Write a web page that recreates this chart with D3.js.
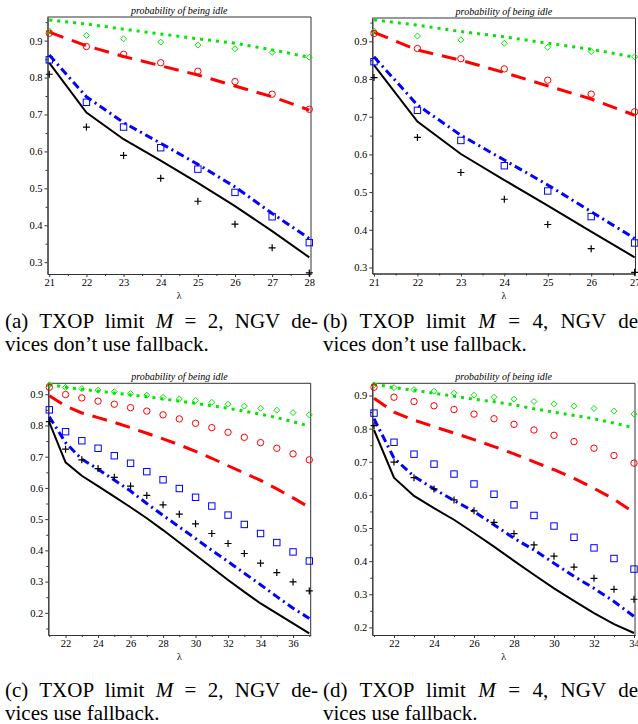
<!DOCTYPE html>
<html>
<head>
<meta charset="utf-8">
<style>
  body { margin: 0; background: #fff; }
  svg { display: block; font-family: "Liberation Serif", "Times New Roman", Times, serif; }
  text { fill: #000; }
  .domain { stroke: #333; }
  .tick line { stroke: #333; }
</style>
</head>
<body>
<svg width="638" height="724"></svg>
<script src="https://cdnjs.cloudflare.com/ajax/libs/d3/7.8.5/d3.min.js"></script>
<script>

// x values (lambda) for each panel
var lambdaA = [21, 22, 23, 24, 25, 26, 27, 28];
var lambdaB = [21, 22, 23, 24, 25, 26, 27];
var lambdaC = [21, 22, 23, 24, 25, 26, 27, 28, 29, 30, 31, 32, 33, 34, 35, 36, 37];
var lambdaD = [21, 22, 23, 24, 25, 26, 27, 28, 29, 30, 31, 32, 33, 34];

// panel (a)
var greenLineA = [0.956, 0.945, 0.931, 0.918, 0.905, 0.893, 0.875, 0.855];
var greenPtsA  = [0.926, 0.914, 0.905, 0.896, 0.888, 0.878, 0.868, 0.855];
var redLineA   = [0.923, 0.886, 0.857, 0.832, 0.807, 0.777, 0.748, 0.712];
var redPtsA    = [0.920, 0.884, 0.863, 0.840, 0.817, 0.789, 0.755, 0.714];
var blueLineA  = [0.861, 0.748, 0.678, 0.622, 0.565, 0.504, 0.432, 0.364];
var bluePtsA   = [0.848, 0.733, 0.666, 0.610, 0.552, 0.489, 0.423, 0.353];
var blackLineA = [0.840, 0.705, 0.633, 0.575, 0.515, 0.452, 0.384, 0.313];
var blackPtsA  = [0.809, 0.666, 0.589, 0.527, 0.465, 0.403, 0.339, 0.271];

// panel (b)
var greenLineB = [0.957, 0.943, 0.926, 0.912, 0.895, 0.879, 0.858];
var greenPtsB  = [0.927, 0.914, 0.904, 0.895, 0.884, 0.873, 0.859];
var redLineB   = [0.924, 0.877, 0.850, 0.817, 0.782, 0.747, 0.704];
var redPtsB    = [0.921, 0.881, 0.854, 0.827, 0.797, 0.760, 0.713];
var blueLineB  = [0.859, 0.731, 0.651, 0.585, 0.519, 0.448, 0.377];
var bluePtsB   = [0.846, 0.717, 0.637, 0.570, 0.503, 0.435, 0.365];
var blackLineB = [0.837, 0.687, 0.601, 0.532, 0.464, 0.395, 0.327];
var blackPtsB  = [0.804, 0.645, 0.552, 0.481, 0.414, 0.350, 0.287];

// panel (c)
var greenLineC = [0.932, 0.922, 0.916, 0.910, 0.904, 0.898, 0.892, 0.885, 0.878, 0.871, 0.863, 0.855, 0.846, 0.836, 0.825, 0.812, 0.798];
var greenPtsC  = [0.930, 0.922, 0.918, 0.913, 0.908, 0.902, 0.897, 0.890, 0.885, 0.880, 0.874, 0.868, 0.862, 0.855, 0.849, 0.841, 0.834];
var redLineC   = [0.895, 0.862, 0.840, 0.825, 0.810, 0.793, 0.775, 0.757, 0.738, 0.717, 0.695, 0.671, 0.648, 0.624, 0.597, 0.568, 0.538];
var redPtsC    = [0.922, 0.899, 0.888, 0.878, 0.868, 0.857, 0.846, 0.834, 0.821, 0.807, 0.793, 0.778, 0.762, 0.745, 0.727, 0.709, 0.690];
var blueLineC  = [0.828, 0.745, 0.692, 0.660, 0.625, 0.590, 0.550, 0.512, 0.475, 0.438, 0.400, 0.364, 0.327, 0.290, 0.252, 0.215, 0.182];
var bluePtsC   = [0.850, 0.780, 0.751, 0.727, 0.703, 0.679, 0.652, 0.626, 0.598, 0.570, 0.542, 0.513, 0.483, 0.454, 0.425, 0.395, 0.366];
var blackLineC = [0.810, 0.682, 0.639, 0.606, 0.572, 0.538, 0.503, 0.465, 0.425, 0.385, 0.345, 0.305, 0.267, 0.230, 0.198, 0.166, 0.134];
var blackPtsC  = [0.812, 0.724, 0.690, 0.662, 0.634, 0.606, 0.576, 0.546, 0.516, 0.485, 0.454, 0.422, 0.390, 0.359, 0.329, 0.299, 0.270];

// panel (d)
var greenLineD = [0.934, 0.924, 0.916, 0.907, 0.898, 0.889, 0.881, 0.872, 0.860, 0.850, 0.840, 0.830, 0.817, 0.803];
var greenPtsD  = [0.932, 0.924, 0.918, 0.913, 0.907, 0.901, 0.895, 0.889, 0.882, 0.875, 0.868, 0.861, 0.853, 0.844];
var redLineD   = [0.892, 0.850, 0.826, 0.806, 0.787, 0.767, 0.746, 0.724, 0.700, 0.676, 0.650, 0.620, 0.587, 0.547];
var redPtsD    = [0.925, 0.895, 0.882, 0.869, 0.858, 0.844, 0.830, 0.813, 0.796, 0.780, 0.761, 0.741, 0.719, 0.696];
var blueLineD  = [0.830, 0.711, 0.656, 0.618, 0.583, 0.550, 0.510, 0.469, 0.434, 0.394, 0.354, 0.318, 0.278, 0.233];
var bluePtsD   = [0.847, 0.759, 0.723, 0.693, 0.663, 0.633, 0.602, 0.570, 0.538, 0.506, 0.472, 0.440, 0.408, 0.376];
var blackLineD = [0.796, 0.652, 0.597, 0.560, 0.525, 0.485, 0.444, 0.401, 0.359, 0.318, 0.280, 0.243, 0.210, 0.183];
var blackPtsD  = [0.809, 0.699, 0.652, 0.618, 0.585, 0.552, 0.517, 0.483, 0.449, 0.415, 0.382, 0.348, 0.315, 0.285];

// tick values
var xTicksAB   = [21, 22, 23, 24, 25, 26, 27, 28];
var xMinorAB   = [21.5, 22.5, 23.5, 24.5, 25.5, 26.5, 27.5];
var xTicksCD   = [22, 24, 26, 28, 30, 32, 34, 36];
var xMinorCD   = [21, 23, 25, 27, 29, 31, 33, 35, 37];
var yTicksAB   = [0.3, 0.4, 0.5, 0.6, 0.7, 0.8, 0.9];
var yTicksCD   = [0.2, 0.3, 0.4, 0.5, 0.6, 0.7, 0.8, 0.9];
var yMinor     = [0.15, 0.25, 0.35, 0.45, 0.55, 0.65, 0.75, 0.85, 0.95];

var plotTitle = "probability of being idle";
var xLabel = "λ";

var captions = [
  ["(a) TXOP limit ", "M", " = 2, NGV de-", "vices don’t use fallback."],
  ["(b) TXOP limit ", "M", " = 4, NGV de-", "vices don’t use fallback."],
  ["(c) TXOP limit ", "M", " = 2, NGV de-", "vices use fallback."],
  ["(d) TXOP limit ", "M", " = 4, NGV de-", "vices use fallback."]
];

var serif = "'Liberation Serif', 'Times New Roman', Times, serif";
var svg = d3.select("svg");

var green = "#00e600", red = "#ff0000", blue = "#0000ff";

var panels = [
  { lam: lambdaA, gl: greenLineA, gp: greenPtsA, rl: redLineA, rp: redPtsA, bl: blueLineA, bp: bluePtsA, kl: blackLineA, kp: blackPtsA,
    left: 47.5, right: 311, top: 17, bottom: 274, xDom: [20.952, 28.046], yDom: [0.268, 0.964],
    xt: xTicksAB, xm: xMinorAB, yt: yTicksAB, cap: captions[0], capX: 5, capY: 328, capW: 313 },
  { lam: lambdaB, gl: greenLineB, gp: greenPtsB, rl: redLineB, rp: redPtsB, bl: blueLineB, bp: bluePtsB, kl: blackLineB, kp: blackPtsB,
    left: 372.3, right: 635.5, top: 18, bottom: 273.5, xDom: [20.961, 27.02], yDom: [0.284, 0.962],
    xt: xTicksAB, xm: xMinorAB, yt: yTicksAB, cap: captions[1], capX: 323, capY: 328, capW: 322 },
  { lam: lambdaC, gl: greenLineC, gp: greenPtsC, rl: redLineC, rp: redPtsC, bl: blueLineC, bp: bluePtsC, kl: blackLineC, kp: blackPtsC,
    left: 48.3, right: 310.7, top: 383.3, bottom: 635, xDom: [20.938, 37.086], yDom: [0.129, 0.935],
    xt: xTicksCD, xm: xMinorCD, yt: yTicksCD, cap: captions[2], capX: 5, capY: 697, capW: 313 },
  { lam: lambdaD, gl: greenLineD, gp: greenPtsD, rl: redLineD, rp: redPtsD, bl: blueLineD, bp: bluePtsD, kl: blackLineD, kp: blackPtsD,
    left: 372.3, right: 635, top: 383.3, bottom: 635, xDom: [20.915, 34.05], yDom: [0.177, 0.937],
    xt: xTicksCD, xm: xMinorCD, yt: yTicksCD, cap: captions[3], capX: 323, capY: 697, capW: 322 }
];

function drawPanel(p) {
  var g = svg.append("g");
  var x = d3.scaleLinear().domain(p.xDom).range([p.left, p.right]);
  var y = d3.scaleLinear().domain(p.yDom).range([p.bottom, p.top]);
  var inX = function(v) { return v >= p.xDom[0] && v <= p.xDom[1]; };
  var inY = function(v) { return v >= p.yDom[0] && v <= p.yDom[1]; };

  // frame (top and right sides)
  g.append("path")
    .attr("d", "M" + p.left + "," + p.top + "H" + p.right + "V" + p.bottom)
    .attr("fill", "none").attr("stroke", "#333").attr("stroke-width", 1);

  // axes with minor ticks
  g.append("g").attr("transform", "translate(0," + p.bottom + ")")
    .call(d3.axisBottom(x).tickValues(p.xm.filter(inX)).tickSize(2).tickSizeOuter(0).tickFormat(""));
  g.append("g").attr("transform", "translate(0," + p.bottom + ")")
    .call(d3.axisBottom(x).tickValues(p.xt.filter(inX)).tickSize(3).tickSizeOuter(0).tickPadding(2).tickFormat(d3.format("d")))
    .attr("font-family", serif).attr("font-size", 10.5);
  g.append("g").attr("transform", "translate(" + p.left + ",0)")
    .call(d3.axisLeft(y).tickValues(yMinor.filter(inY)).tickSize(2).tickSizeOuter(0).tickFormat(""));
  g.append("g").attr("transform", "translate(" + p.left + ",0)")
    .call(d3.axisLeft(y).tickValues(p.yt.filter(inY)).tickSize(3).tickSizeOuter(0).tickPadding(2).tickFormat(d3.format(".1f")))
    .attr("font-family", serif).attr("font-size", 10.5);
  g.selectAll(".tick text").attr("fill", "#222");

  // title and x label
  g.append("text").attr("x", (p.left + p.right) / 2).attr("y", p.top - 3)
    .attr("text-anchor", "middle").attr("font-size", 10).attr("font-style", "italic").attr("fill", "#222").text(plotTitle);
  g.append("text").attr("x", (p.left + p.right) / 2).attr("y", p.bottom + 25)
    .attr("text-anchor", "middle").attr("font-size", 10).attr("fill", "#222").text(xLabel);

  var line = function(vals) {
    return d3.line().x(function(d, i) { return x(p.lam[i]); }).y(function(d) { return y(d); })(vals);
  };

  var plot = g.append("g");
  plot.append("path").attr("d", line(p.gl)).attr("fill", "none").attr("stroke", green)
    .attr("stroke-width", 3).attr("stroke-dasharray", "3,5");
  plot.append("path").attr("d", line(p.rl)).attr("fill", "none").attr("stroke", red)
    .attr("stroke-width", 3).attr("stroke-dasharray", "15,9");
  plot.append("path").attr("d", line(p.bl)).attr("fill", "none").attr("stroke", blue)
    .attr("stroke-width", 3).attr("stroke-dasharray", "8,4,2,4");
  plot.append("path").attr("d", line(p.kl)).attr("fill", "none").attr("stroke", "#000")
    .attr("stroke-width", 2);

  // markers
  var pts = function(vals) { return vals.map(function(v, i) { return [x(p.lam[i]), y(v)]; }); };

  plot.selectAll(".dia").data(pts(p.gp)).enter().append("path")
    .attr("d", function(d) { var s = 3; return "M" + d[0] + "," + (d[1] - s) + "L" + (d[0] + s) + "," + d[1] + "L" + d[0] + "," + (d[1] + s) + "L" + (d[0] - s) + "," + d[1] + "Z"; })
    .attr("fill", "none").attr("stroke", green).attr("stroke-width", 1);
  plot.selectAll(".circ").data(pts(p.rp)).enter().append("circle")
    .attr("cx", function(d) { return d[0]; }).attr("cy", function(d) { return d[1]; }).attr("r", 3.2)
    .attr("fill", "none").attr("stroke", red).attr("stroke-width", 1);
  plot.selectAll(".sq").data(pts(p.bp)).enter().append("rect")
    .attr("x", function(d) { return d[0] - 3.2; }).attr("y", function(d) { return d[1] - 3.2; })
    .attr("width", 6.4).attr("height", 6.4)
    .attr("fill", "none").attr("stroke", blue).attr("stroke-width", 1);
  plot.selectAll(".plus").data(pts(p.kp)).enter().append("path")
    .attr("d", function(d) { var s = 3.5; return "M" + (d[0] - s) + "," + d[1] + "H" + (d[0] + s) + "M" + d[0] + "," + (d[1] - s) + "V" + (d[1] + s); })
    .attr("fill", "none").attr("stroke", "#000").attr("stroke-width", 1.2);

  // caption, first line justified by widening the word gaps
  var c1 = svg.append("text").attr("x", p.capX).attr("y", p.capY).attr("font-size", 21);
  c1.append("tspan").text(p.cap[0]);
  c1.append("tspan").attr("font-style", "italic").text(p.cap[1]);
  c1.append("tspan").text(p.cap[2]);
  var w = c1.node().getComputedTextLength();
  var gaps = (p.cap[0] + p.cap[1] + p.cap[2]).trim().split(" ").length - 1;
  c1.attr("word-spacing", Math.max(0, (p.capW - w) / gaps));
  svg.append("text").attr("x", p.capX).attr("y", p.capY + 23).attr("font-size", 21).text(p.cap[3]);
}

panels.forEach(drawPanel);

</script>
</body>
</html>
